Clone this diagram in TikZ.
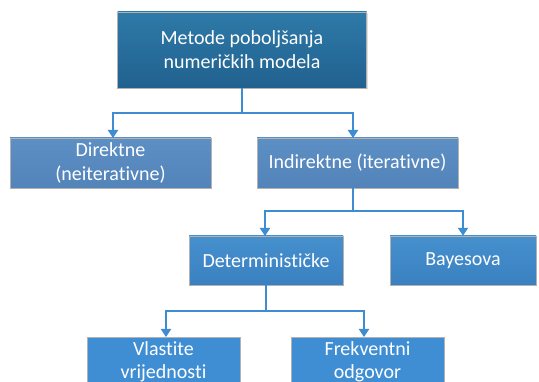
\documentclass[tikz,border=0pt]{standalone}
\usepackage{fontspec}
\setmainfont{Carlito}[Ligatures=NoCommon]
\usetikzlibrary{arrows.meta,shadows}
\definecolor{topc}{HTML}{21618F}
\definecolor{topl}{HTML}{2E7AA8}
\definecolor{lvlone}{HTML}{5384B9}
\definecolor{lvlonel}{HTML}{5C8FC4}
\definecolor{lvltwo}{HTML}{3A80C0}
\definecolor{lvltwol}{HTML}{4690CE}
\definecolor{lvlthree}{HTML}{3F8DD2}
\definecolor{linec}{HTML}{3E8DD3}
\tikzset{
  box/.style={draw=white!70!black, line width=0.4pt, text=white, align=center,
    inner sep=0pt, font=\fontsize{20}{24}\selectfont,
    drop shadow={shadow xshift=1pt, shadow yshift=-1.5pt, opacity=0.25}},
  arr/.style={draw=linec, line width=2pt, -{Triangle[length=8pt,width=10pt]}},
}
\begin{document}
\begin{tikzpicture}[x=1pt,y=-1pt]
\clip (0,0) rectangle (539,382);
\fill[white] (0,0) rectangle (539,382);
\node[box, minimum width=249pt, minimum height=76pt, top color=topl, bottom color=topc] (top) at (242,50) {Metode poboljšanja\\numeričkih modela};
\node[box, minimum width=201pt, minimum height=50pt, top color=lvlonel, bottom color=lvlone] (dir) at (110.5,163) {Direktne\\(neiterativne)};
\node[box, minimum width=201pt, minimum height=50pt, top color=lvlonel, bottom color=lvlone] (ind) at (357.5,163) {Indirektne (iterativne)};
\node[box, minimum width=154pt, minimum height=49pt, top color=lvltwol, bottom color=lvltwo] (det) at (266,260.5) {Determinističke};
\node[box, minimum width=146pt, minimum height=49pt, top color=lvltwol, bottom color=lvltwo] (bay) at (463,260.5) {Bayesova};
\node[box, minimum width=153pt, minimum height=50pt, fill=lvlthree, anchor=north] (vla) at (163.5,337) {\raisebox{6pt}{\begin{tabular}{@{}c@{}}Vlastite\\[-1pt]vrijednosti\end{tabular}}};
\node[box, minimum width=153pt, minimum height=50pt, fill=lvlthree, anchor=north] (frek) at (367.5,337) {\raisebox{6pt}{\begin{tabular}{@{}c@{}}Frekventni\\[-1pt]odgovor\end{tabular}}};
\coordinate (j1) at (242,113);
\coordinate (j2) at (353,211);
\coordinate (j3) at (266,311);
\draw[arr] (top.south) -- (j1) -| (113,138);
\draw[arr] (j1) -| (353,138);
\draw[arr] (ind.south -| j2) -- (j2) -| (265,236);
\draw[arr] (j2) -| (bay.north);
\draw[arr] (det.south) -- (j3) -| (166,337);
\draw[arr] (j3) -| (364,337);
\end{tikzpicture}
\end{document}
